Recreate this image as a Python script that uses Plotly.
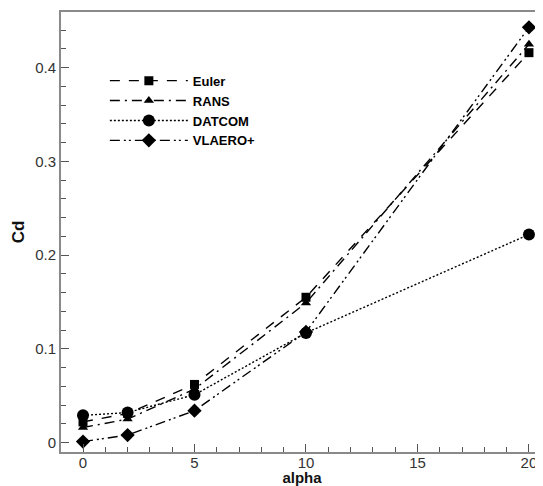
import plotly.graph_objects as go

alpha = [0, 2, 5, 10, 20]
euler = [0.022, 0.031, 0.062, 0.155, 0.416]
rans = [0.016, 0.025, 0.057, 0.149, 0.425]
datcom = [0.029, 0.032, 0.051, 0.117, 0.222]
vlaero = [0.001, 0.008, 0.034, 0.118, 0.443]

series = [
    ("Euler", euler, "10px,9px", "square", 9),
    ("RANS", rans, "10px,5px,2px,5px", "triangle-up", 9),
    ("DATCOM", datcom, "2px,2px", "circle", 12),
    ("VLAERO+", vlaero, "10px,4px,2px,3px,2px,4px", "diamond", 11),
]

fig = go.Figure()
for name, ys, dash, sym, size in series:
    fig.add_trace(go.Scatter(
        x=alpha, y=ys, name=name, mode="lines+markers",
        line=dict(color="black", width=1.4, dash=dash),
        marker=dict(symbol=sym, size=size, color="black"),
    ))

font_fam = "Liberation Sans, Arial"
axis_common = dict(
    showline=True, linecolor="#8a8a8a", linewidth=2,
    ticks="inside", tickcolor="#555", ticklen=8, tickwidth=1,
    showgrid=False, zeroline=False,
    tickfont=dict(family=font_fam, size=15, color="#333"),
)

fig.update_layout(
    width=535, height=478,
    margin=dict(l=53, r=0, t=4, b=34),
    plot_bgcolor="white", paper_bgcolor="white",
    xaxis=dict(range=[-0.987, 20.63], tickvals=[0, 5, 10, 15, 20], mirror=True,
               ticklabelstandoff=-4,
               minor=dict(dtick=1, ticks="inside", ticklen=5, tickcolor="#555"),
               title=dict(text="<b>alpha</b>", standoff=0,
                          font=dict(family=font_fam, size=15, color="#111")),
               **axis_common),
    yaxis=dict(range=[-0.0101, 0.4594], tickvals=[0, 0.1, 0.2, 0.3, 0.4],
               ticktext=["0", "0.1", "0.2", "0.3", "0.4"], mirror=False,
               minor=dict(dtick=0.02, tick0=0, ticks="inside", ticklen=5, tickcolor="#555"),
               title=dict(text="<b>Cd</b>", standoff=6,
                          font=dict(family=font_fam, size=17, color="#111")),
               **axis_common),
    legend=dict(x=0.091, y=0.878, xanchor="left", yanchor="top",
                bgcolor="rgba(0,0,0,0)", tracegroupgap=0, itemwidth=78,
                font=dict(family=font_fam, size=13, color="black", weight="bold")),
    showlegend=True,
)

fig.write_html("out.html")
